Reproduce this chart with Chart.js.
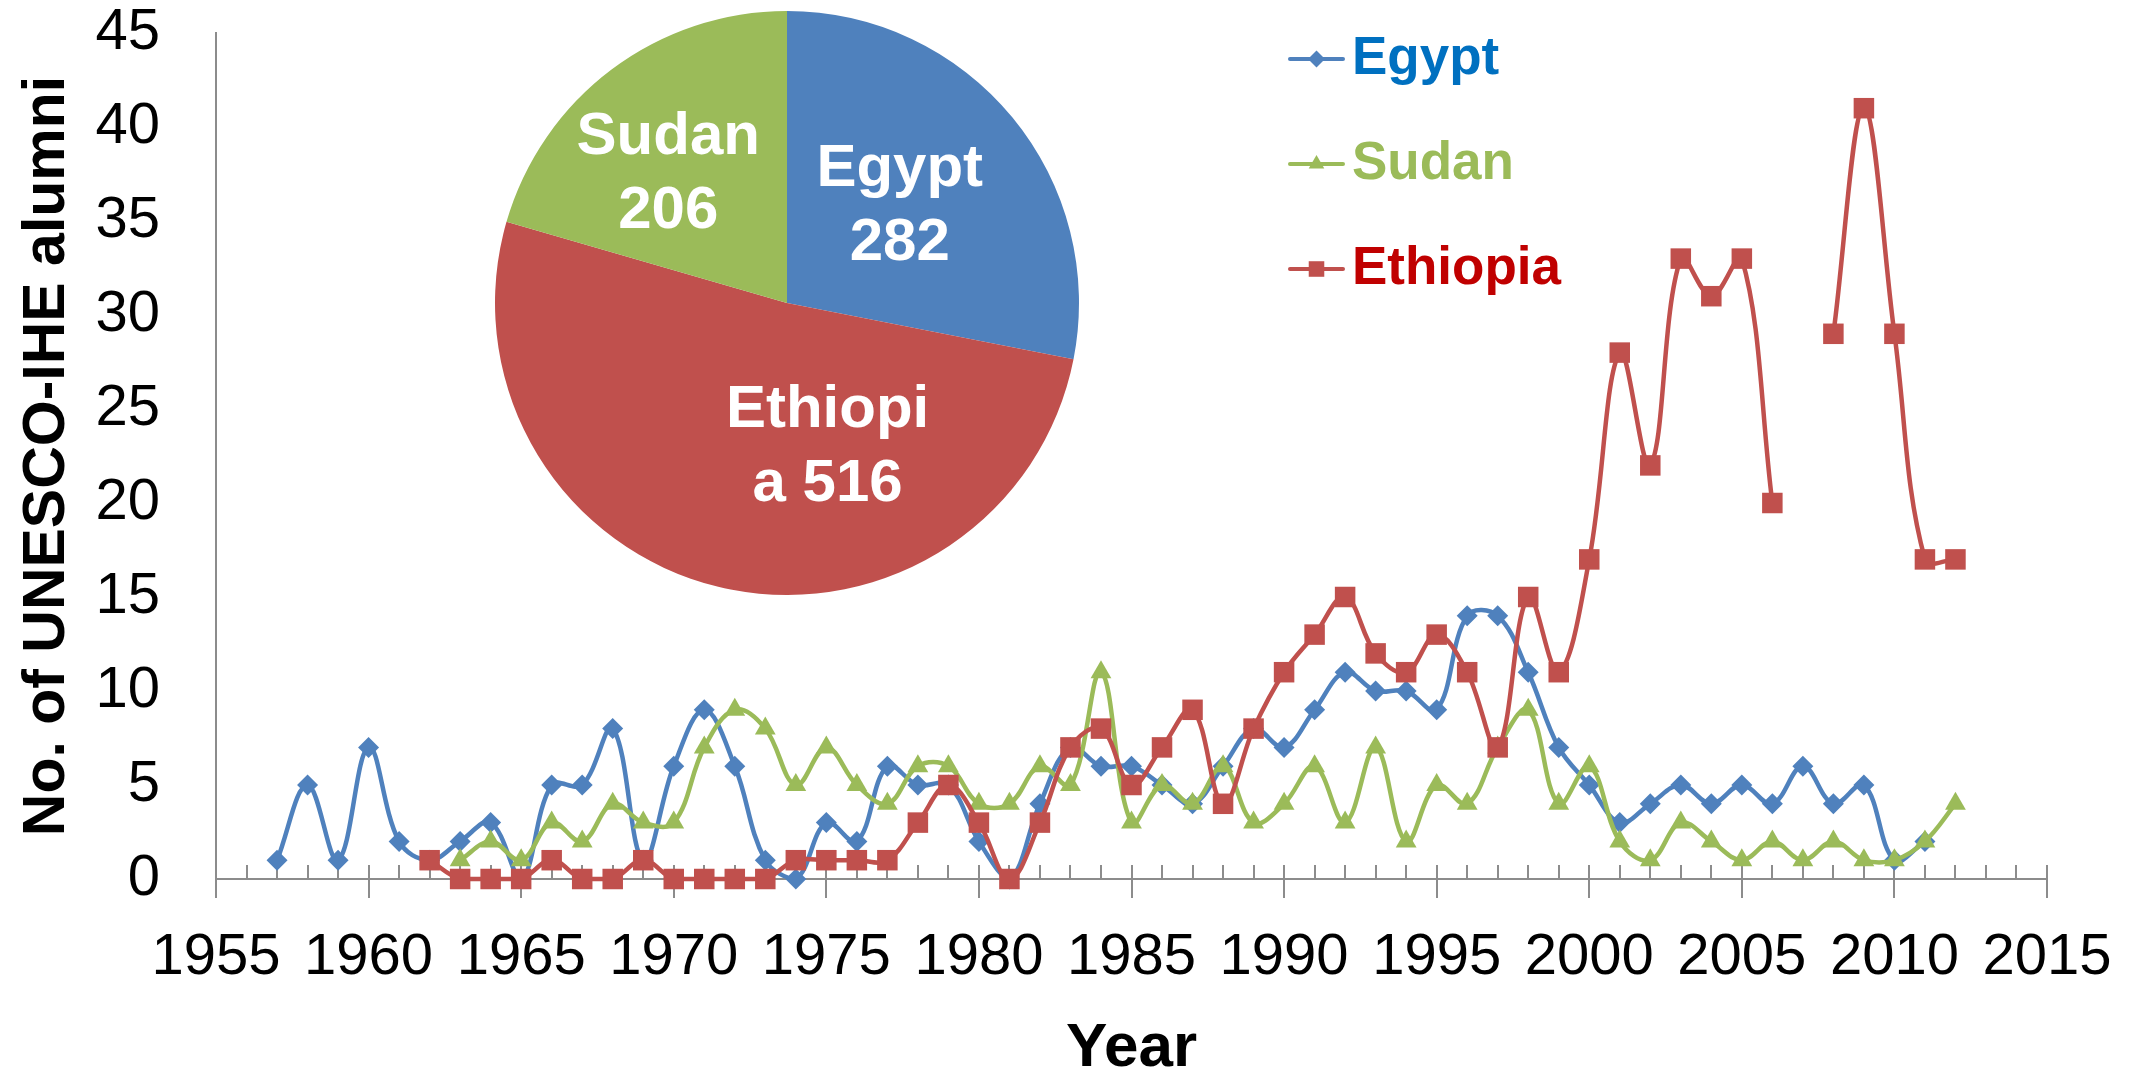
<!DOCTYPE html>
<html><head><meta charset="utf-8">
<script src="https://cdn.jsdelivr.net/npm/chart.js@4.4.0/dist/chart.umd.min.js"></script>
<style>
html,body{margin:0;padding:0;background:#fff;overflow:hidden}
#wrap{position:relative;width:2133px;height:1075px}
#main{position:absolute;left:0;top:0}
#pie{position:absolute;left:487px;top:3px}
</style></head><body>
<div id="wrap"><canvas id="main" width="2133" height="1075"></canvas><canvas id="pie" width="600" height="600"></canvas></div>
<script>
// ---------- data ----------
const years = [1957,1958,1959,1960,1961,1962,1963,1964,1965,1966,1967,1968,1969,1970,1971,1972,1973,1974,1975,1976,
  1977,1978,1979,1980,1981,1982,1983,1984,1985,1986,1987,1988,1989,1990,1991,1992,1993,1994,1995,1996,
  1997,1998,1999,2000,2001,2002,2003,2004,2005,2006,2007,2008,2009,2010,2011,2012];
const egypt = [1,5,1,7,2,1,2,3,0,5,5,8,1,6,9,6,1,0,3,2,
  6,5,5,2,0,4,7,6,6,5,4,6,8,7,9,11,10,10,9,14,
  14,11,7,5,3,4,5,4,5,4,6,4,5,1,2,null];
const sudan = [null,null,null,null,null,null,1,2,1,3,2,4,3,3,7,9,8,5,7,5,
  4,6,6,4,4,6,5,11,3,5,4,6,3,4,6,3,7,2,5,4,
  7,9,4,6,2,1,3,2,1,2,1,2,1,1,2,4];
const ethiopia = [null,null,null,null,null,1,0,0,0,1,0,0,1,0,0,0,0,1,1,1,
  1,3,5,3,0,3,7,8,5,7,9,4,8,11,13,15,12,11,13,11,
  7,15,11,17,28,22,33,31,33,20,null,29,41,29,17,17];
const seriesNames = ['Egypt','Sudan','Ethiopia'];
const xTickMin = 1955, xTickMax = 2015, xTickStep = 5;
const yTickMin = 0, yTickMax = 45, yTickStep = 5;
const pieLabels = ['Egypt','Ethiopia','Sudan'];
const pieValues = [282,516,206];

// ---------- styles ----------
const seriesColors = ['#4F81BD','#9BBB59','#C0504D'];
const legendTextColors = ['#0070C0','#9BBB59','#C00000'];
const pointStyles = ['rectRot','triangle','rect'];
const pointRadii = [10.5,12,14.5];
const legendRadii = [8.5,9,11];
const pieColors = ['#4F81BD','#C0504D','#9BBB59'];
const pieLabelShift = [[0,-9],[75,-2],[-31,-17]];
const AXIS = '#8C8C8C';
const FONT = '"Liberation Sans", Arial, sans-serif';

// pick a condensed bold font for the y title if available
const mctx = document.createElement('canvas').getContext('2d');
const titleText = 'No. of UNESCO-IHE alumni';
mctx.font = 'bold 100px "Liberation Sans Narrow"';
const wN = mctx.measureText(titleText).width;
mctx.font = 'bold 100px "Liberation Sans"';
const wR = mctx.measureText(titleText).width;
let yTitleFamily = '"Liberation Sans Narrow", "Liberation Sans", sans-serif';
let yTitleSize = 66;
if (Math.abs(wN - wR) < 1) {
  mctx.font = 'bold 100px "DejaVu Sans Condensed"';
  const wD = mctx.measureText(titleText).width;
  mctx.font = 'bold 100px "DejaVu Sans"';
  const wDD = mctx.measureText(titleText).width;
  if (Math.abs(wD - wDD) > 1) { yTitleFamily = '"DejaVu Sans Condensed", sans-serif'; yTitleSize = Math.round(734 / wD * 100); }
  else { yTitleFamily = FONT; yTitleSize = Math.round(734 / wR * 100); }
} else {
  yTitleSize = Math.round(734 / wN * 100);
}

function pts(arr){ return years.map((yr,i)=>({x:yr, y:arr[i]})); }
const seriesData = [egypt, sudan, ethiopia];

const datasets = seriesNames.map((name,i)=>({
  label: name,
  data: pts(seriesData[i]),
  borderColor: seriesColors[i],
  backgroundColor: seriesColors[i],
  pointStyle: pointStyles[i],
  pointRadius: pointRadii[i],
  pointBorderWidth: 0,
  pointHoverRadius: pointRadii[i],
  borderWidth: 4.5,
  tension: 0.38,
  spanGaps: false,
  clip: false,
  order: 3 - i
}));

const axisTickPlugin = {
  id: 'axisTicks',
  beforeDatasetsDraw(chart){
    const xs = chart.scales.x, ctx = chart.ctx;
    const yb = chart.chartArea.bottom;
    ctx.save();
    ctx.strokeStyle = AXIS; ctx.lineWidth = 2;
    for (let v = xs.min; v <= xs.max; v++) {
      const px = Math.round(xs.getPixelForValue(v));
      const major = (v - xs.min) % xTickStep === 0;
      ctx.beginPath();
      ctx.moveTo(px, yb - 14);
      ctx.lineTo(px, major ? yb + 19 : yb);
      ctx.stroke();
    }
    ctx.restore();
  }
};

const legendPlugin = {
  id: 'cornerLegend',
  afterDraw(chart){
    const ctx = chart.ctx;
    const x0 = 1290, x1 = 1343, tx = 1352, y0 = 59, dy = 105;
    chart.data.datasets.forEach((ds,i)=>{
      const y = y0 + i*dy;
      ctx.save();
      ctx.strokeStyle = ds.borderColor; ctx.lineWidth = 4; ctx.lineCap = 'round';
      ctx.beginPath(); ctx.moveTo(x0,y); ctx.lineTo(x1,y); ctx.stroke();
      ctx.fillStyle = ds.backgroundColor;
      Chart.helpers.drawPoint(ctx, {pointStyle: ds.pointStyle, radius: legendRadii[i], borderWidth: 0, rotation: 0}, (x0+x1)/2, y);
      ctx.font = 'bold 53px ' + FONT;
      ctx.fillStyle = legendTextColors[i];
      ctx.textAlign = 'left'; ctx.textBaseline = 'middle';
      ctx.fillText(ds.label, tx, y);
      ctx.restore();
    });
  }
};

new Chart(document.getElementById('main'), {
  type: 'line',
  data: { datasets },
  options: {
    responsive: false, animation: false, events: [],
    layout: { padding: { top: 33, right: 86, left: 0, bottom: 0 } },
    plugins: { legend: { display: false }, tooltip: { enabled: false } },
    scales: {
      x: {
        type: 'linear', min: xTickMin, max: xTickMax,
        afterFit(s){ s.height = 196; s.paddingLeft = 0; s.paddingRight = 0; },
        grid: { display: false, drawTicks: false },
        border: { display: true, color: AXIS, width: 2 },
        ticks: { stepSize: xTickStep, autoSkip: false, maxRotation: 0, padding: 44,
          color: '#000', font: { family: FONT, size: 58 }, callback: v => String(v) },
        title: { display: true, text: 'Year', color: '#000', padding: { top: 0, bottom: 1 },
          font: { family: FONT, size: 62, weight: 'bold', lineHeight: 0.8 } }
      },
      y: {
        min: yTickMin, max: yTickMax,
        afterFit(s){ s.width = 216; s.paddingTop = 0; s.paddingBottom = 0; },
        grid: { display: false, drawTicks: false },
        border: { display: true, color: AXIS, width: 2 },
        ticks: { stepSize: yTickStep, padding: 56, color: '#000', font: { family: FONT, size: 58 },
          callback: v => String(v) },
        title: { display: true, text: titleText, color: '#000', padding: { top: 18, bottom: 0 },
          font: { family: yTitleFamily, size: yTitleSize, weight: 'bold', lineHeight: 1 } }
      }
    }
  },
  plugins: [axisTickPlugin, legendPlugin]
});

function pieLines(name, value){
  return name.length <= 7 ? [name, String(value)] : [name.slice(0,7), name.slice(7) + ' ' + value];
}

const pieLabelPlugin = {
  id: 'pieLabels',
  afterDatasetsDraw(chart){
    const ctx = chart.ctx;
    const meta = chart.getDatasetMeta(0);
    meta.data.forEach((arc,i)=>{
      const p = arc.getProps(['x','y','startAngle','endAngle','outerRadius'], true);
      const mid = (p.startAngle + p.endAngle) / 2;
      const cx = p.x + Math.cos(mid) * p.outerRadius * 0.5 + pieLabelShift[i][0];
      const cy = p.y + Math.sin(mid) * p.outerRadius * 0.5 + pieLabelShift[i][1];
      const lines = pieLines(chart.data.labels[i], chart.data.datasets[0].data[i]);
      ctx.save();
      ctx.font = 'bold 60px ' + FONT;
      ctx.fillStyle = '#fff';
      ctx.textAlign = 'center'; ctx.textBaseline = 'alphabetic';
      const lh = 74;
      lines.forEach((t,k)=>{
        const base = cy - lh*(lines.length-1)/2 + 21.5 + k*lh;
        ctx.fillText(t, cx, base);
      });
      ctx.restore();
    });
  }
};

new Chart(document.getElementById('pie'), {
  type: 'pie',
  data: { labels: pieLabels, datasets: [{ data: pieValues, backgroundColor: pieColors, borderWidth: 0 }] },
  options: {
    responsive: false, animation: false, events: [],
    layout: { padding: 8 },
    plugins: { legend: { display: false }, tooltip: { enabled: false } }
  },
  plugins: [pieLabelPlugin]
});
</script>
</body></html>
